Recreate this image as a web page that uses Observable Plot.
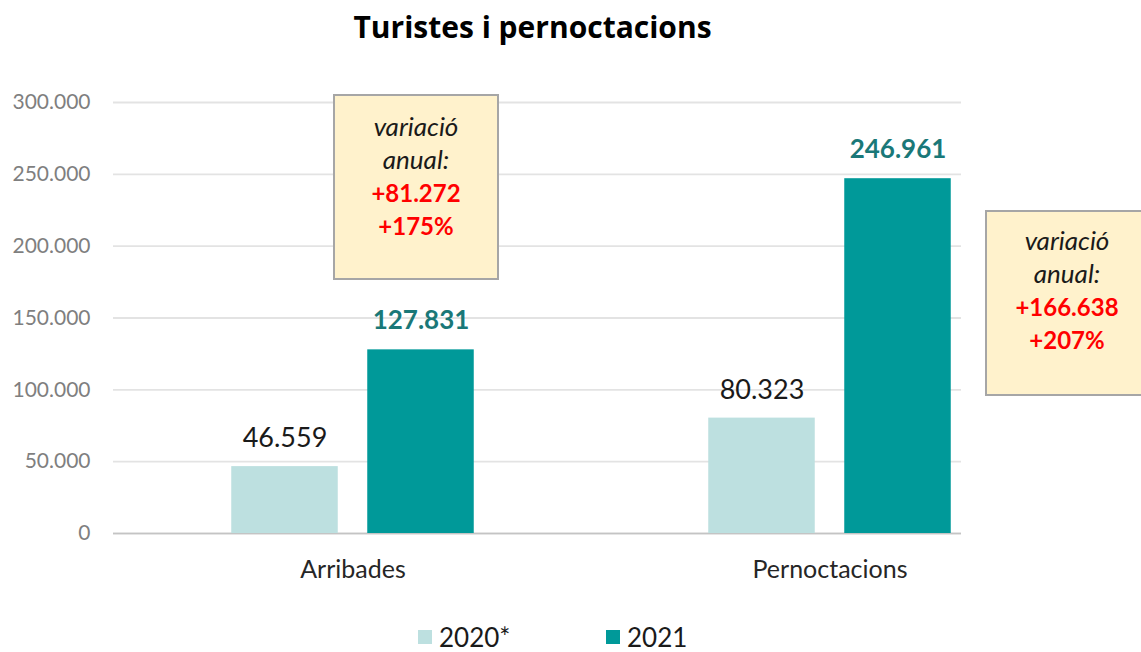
<!DOCTYPE html>
<html><head><meta charset="utf-8">
<script src="https://cdn.jsdelivr.net/npm/d3@7"></script>
<script src="https://cdn.jsdelivr.net/npm/@observablehq/plot@0.6"></script>
<style>
html,body{margin:0;padding:0;background:#fff;overflow:hidden;}
#wrap{position:relative;width:1141px;height:652px;overflow:hidden;font-family:Lato,"Open Sans",sans-serif;}
#title{position:absolute;left:0;top:7px;width:1065px;text-align:center;font-family:"Open Sans",Lato,sans-serif;font-size:30px;line-height:40px;font-weight:700;color:#000;}
#chart{position:absolute;left:0;top:70px;}
.box{position:absolute;box-sizing:border-box;background:#fff2cc;border:2px solid #a6a6a6;text-align:center;font-size:24px;line-height:33px;}
.box .it{font-style:italic;color:#1a1a1a;font-size:26px;}
.box .rd{font-weight:700;color:#ff0000;}
.leg{position:absolute;top:625px;display:flex;align-items:center;gap:7px;font-size:26px;line-height:24px;color:#1a1a1a;}
.leg .sw{width:14px;height:14px;display:inline-block;}
</style>
</head><body>
<div id="wrap">
  <div id="title"></div>
  <div id="chart"></div>
</div>
<script>
// ---- data ----
const title = "Turistes i pernoctacions";
const categories = ["Arribades", "Pernoctacions"];
const seriesNames = ["2020*", "2021"];
const values2020 = [46559, 80323];
const values2021 = [127831, 246961];
const yTicks = [0, 50000, 100000, 150000, 200000, 250000, 300000];
const boxLine1 = "variació";
const boxLine2 = "anual:";
const changeAbs = ["+81.272", "+166.638"];
const changePct = ["+175%", "+207%"];

// ---- formatting ----
const loc = d3.formatLocale({decimal: ",", thousands: ".", grouping: [3], currency: ["", "€"]});
const fmt = loc.format(",d");

const colors = ["#bde0e0", "#009999"];
const rows2020 = categories.map((c, i) => ({cat: c, value: values2020[i]}));
const rows2021 = categories.map((c, i) => ({cat: c, value: values2021[i]}));

document.getElementById("title").textContent = title;

const chart = Plot.plot({
  width: 1141,
  height: 540,
  marginLeft: 113,
  marginRight: 180,
  marginTop: 32,
  marginBottom: 77,
  style: {fontFamily: "Lato, 'Open Sans', sans-serif", background: "#fff", overflow: "visible"},
  x: {type: "band", domain: categories, range: [113.25, 1067.75], padding: 0},
  y: {domain: [0, 300000]},
  marks: [
    Plot.gridY(yTicks, {stroke: "#e3e3e3", strokeOpacity: 1, strokeWidth: 1.8}),
    Plot.ruleY([0], {stroke: "#c4c4c4", strokeWidth: 1.5}),
    Plot.axisY(yTicks, {tickFormat: d => fmt(d), tickSize: 0, tickPadding: 23, fontSize: 21, fill: "#7f7f7f", label: null}),
    Plot.axisX({tickSize: 0, tickPadding: 27, fontSize: 25, fill: "#262626", label: null}),
    Plot.barY(rows2020, {x: "cat", y: "value", fill: colors[0], insetLeft: 185.25, insetRight: 185.25, dx: -68}),
    Plot.barY(rows2021, {x: "cat", y: "value", fill: colors[1], insetLeft: 185.25, insetRight: 185.25, dx: 68}),
    Plot.text(rows2020, {x: "cat", y: "value", text: d => fmt(d.value), dx: -68, dy: -28, fontSize: 27, fill: "#1a1a1a"}),
    Plot.text(rows2021, {x: "cat", y: "value", text: d => fmt(d.value), dx: 68, dy: -29, fontSize: 26, fontWeight: 700, fill: "#1a7878"})
  ]
});
document.getElementById("chart").appendChild(chart);

const wrap = document.getElementById("wrap");
// annotation boxes
const boxes = [
  {left: 333, top: 94, width: 166, height: 186, pad: 14},
  {left: 985, top: 210, width: 164, height: 186, pad: 12}
];
boxes.forEach((b, i) => {
  const d = document.createElement("div");
  d.className = "box";
  d.style.left = b.left + "px";
  d.style.top = b.top + "px";
  d.style.width = b.width + "px";
  d.style.height = b.height + "px";
  d.style.paddingTop = b.pad + "px";
  d.innerHTML = `<div class="it">${boxLine1}</div><div class="it">${boxLine2}</div><div class="rd">${changeAbs[i]}</div><div class="rd">${changePct[i]}</div>`;
  wrap.appendChild(d);
});

// legend
const legLeft = [418, 606];
seriesNames.forEach((s, i) => {
  const d = document.createElement("div");
  d.className = "leg";
  d.style.left = legLeft[i] + "px";
  d.innerHTML = `<span class="sw" style="background:${colors[i]}"></span><span>${s}</span>`;
  wrap.appendChild(d);
});
</script>
</body></html>
